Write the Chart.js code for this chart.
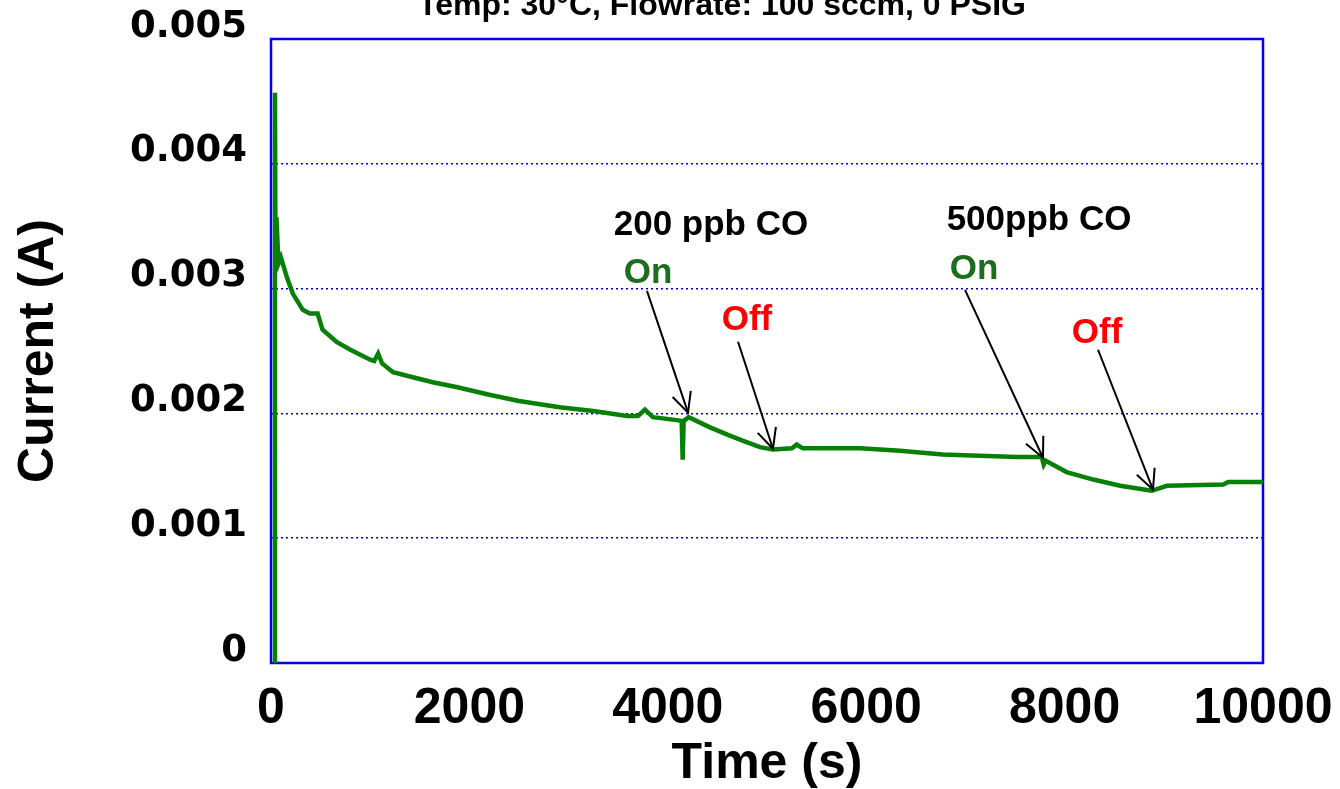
<!DOCTYPE html>
<html>
<head>
<meta charset="utf-8">
<script src="https://cdn.jsdelivr.net/npm/chart.js@4"></script>
<style>
  html, body { margin: 0; padding: 0; background: #fff; }
  canvas { display: block; }
</style>
</head>
<body>
<canvas id="myChart" width="1340" height="789"></canvas>
<script>
// time (s) and sensor current (A)
const timeS = [35, 40, 45, 55, 75, 100, 160, 220, 320, 390, 470, 520, 665, 800, 1000, 1040, 1080, 1120, 1230, 1430, 1630, 1880, 2200, 2500, 2910, 3250, 3590, 3700, 3770, 3850, 4050, 4140, 4150, 4160, 4210, 4420, 4600, 4760, 4930, 5060, 5250, 5300, 5360, 5940, 6340, 6770, 7520, 7770, 7790, 7810, 8020, 8290, 8560, 8880, 9030, 9600, 9650, 10000];
const currentA = [0, 0.00457, 0.0033, 0.00357, 0.0032, 0.00325, 0.00309, 0.00296, 0.00283, 0.0028, 0.0028, 0.00267, 0.00257, 0.00251, 0.00243, 0.00242, 0.00248, 0.0024, 0.00233, 0.00229, 0.00225, 0.00221, 0.00215, 0.0021, 0.00205, 0.00202, 0.00198, 0.00198, 0.00203, 0.00197, 0.00195, 0.00194, 0.00163, 0.00194, 0.00197, 0.00189, 0.00183, 0.00178, 0.00173, 0.00171, 0.00172, 0.00175, 0.00172, 0.00172, 0.0017, 0.00167, 0.00165, 0.00165, 0.00159, 0.00162, 0.00153, 0.00147, 0.00142, 0.00138, 0.00142, 0.00143, 0.00145, 0.00145];

const yTicks = [0, 0.001, 0.002, 0.003, 0.004, 0.005];
const xTicks = [0, 2000, 4000, 6000, 8000, 10000];

const chartTitle = 'Temp: 30\u00b0C, Flowrate: 100 sccm, 0 PSIG';

// annotation labels: text, time, current, colour
const labelText = ['200 ppb CO', 'On', 'Off', '500ppb CO', 'On', 'Off'];
const labelTime = [4435, 3800, 4798, 7742, 7087, 8327];
const labelCurrent = [0.003431, 0.003047, 0.00267, 0.003471, 0.003078, 0.002566];
const labelColor = ['#000000', '#1b6e1b', '#ff0000', '#000000', '#1b6e1b', '#ff0000'];

// arrows: start -> end (time, current)
const arrowFromTime = [3790, 4708, 6996, 8337];
const arrowFromCurrent = [0.002982, 0.002574, 0.00299, 0.00251];
const arrowToTime = [4204, 5060, 7782, 8891];
const arrowToCurrent = [0.002006, 0.001717, 0.001645, 0.001389];

let points = timeS.map((t, i) => ({ x: t, y: currentA[i] }));

const frame = {
    id: 'frame',
    beforeDatasetsDraw(chart) {
        const a = chart.chartArea;
        const ctx = chart.ctx;
        ctx.save();
        ctx.strokeStyle = '#0000ee';
        ctx.lineWidth = 2.5;
        ctx.strokeRect(a.left, a.top, a.right - a.left, a.bottom - a.top);
        ctx.restore();
    }
};

const notes = {
    id: 'notes',
    afterDatasetsDraw(chart) {
        const ctx = chart.ctx;
        const xs = chart.scales.x, ys = chart.scales.y;
        ctx.save();
        // title, partly cut off at the top like the original
        ctx.font = 'bold 32px "Liberation Sans", Arial, sans-serif';
        ctx.fillStyle = '#000';
        ctx.textAlign = 'center';
        ctx.textBaseline = 'alphabetic';
        ctx.fillText(chartTitle, 722, 15);

        ctx.font = 'bold 35px "Liberation Sans", Arial, sans-serif';
        for (let i = 0; i < labelText.length; i++) {
            ctx.fillStyle = labelColor[i];
            ctx.fillText(labelText[i], xs.getPixelForValue(labelTime[i]), ys.getPixelForValue(labelCurrent[i]));
        }

        ctx.strokeStyle = '#000';
        ctx.lineWidth = 2;
        for (let i = 0; i < arrowFromTime.length; i++) {
            let x1 = xs.getPixelForValue(arrowFromTime[i]);
            let y1 = ys.getPixelForValue(arrowFromCurrent[i]);
            let x2 = xs.getPixelForValue(arrowToTime[i]);
            let y2 = ys.getPixelForValue(arrowToCurrent[i]);
            ctx.beginPath();
            ctx.moveTo(x1, y1);
            ctx.lineTo(x2, y2);
            ctx.stroke();
            let ang = Math.atan2(y2 - y1, x2 - x1);
            let len = 22, spread = 0.45;
            ctx.beginPath();
            ctx.moveTo(x2 - len * Math.cos(ang - spread), y2 - len * Math.sin(ang - spread));
            ctx.lineTo(x2, y2);
            ctx.lineTo(x2 - len * Math.cos(ang + spread), y2 - len * Math.sin(ang + spread));
            ctx.stroke();
        }
        ctx.restore();
    }
};

var ctx = document.getElementById('myChart').getContext('2d');

var myChart = new Chart(ctx, {
    type: 'scatter',
    data: {
        datasets: [{
            label: 'Current',
            data: points,
            showLine: true,
            borderColor: '#078007',
            borderWidth: 4.5,
            pointRadius: 0,
            tension: 0
        }]
    },
    options: {
        responsive: false,
        animation: false,
        devicePixelRatio: 1,
        layout: { padding: { top: 39, right: 77, bottom: 0, left: 0 } },
        plugins: {
            legend: { display: false },
            tooltip: { enabled: false }
        },
        scales: {
            x: {
                type: 'linear',
                min: 0,
                max: 10000,
                afterBuildTicks: (s) => { s.ticks = xTicks.map(v => ({ value: v })); },
                afterFit: (s) => { s.height = 126; s.paddingLeft = 0; s.paddingRight = 0; },
                grid: { display: false, drawTicks: false },
                border: { display: false },
                ticks: {
                    padding: 16,
                    color: '#000',
                    maxRotation: 0,
                    font: { family: '"Liberation Sans", Arial, sans-serif', size: 50, weight: 'bold' },
                    callback: (v) => String(v)
                },
                title: {
                    display: true,
                    text: 'Time (s)',
                    color: '#000',
                    padding: { top: 0, bottom: 0 },
                    font: { family: '"Liberation Sans", Arial, sans-serif', size: 50, weight: 'bold', lineHeight: 1 }
                }
            },
            y: {
                min: 0,
                max: 0.005,
                afterBuildTicks: (s) => { s.ticks = yTicks.map(v => ({ value: v })); },
                afterFit: (s) => { s.width = 271; s.paddingTop = 0; s.paddingBottom = 0; },
                grid: {
                    drawTicks: false,
                    color: (c) => (c.tick && c.tick.value > 0 && c.tick.value < 0.005) ? '#0000cc' : 'rgba(0,0,0,0)',
                    lineWidth: 1.5
                },
                border: { display: false, dash: [2, 3] },
                ticks: {
                    padding: 24,
                    labelOffset: -12,
                    color: '#000',
                    font: { family: '"DejaVu Sans", sans-serif', size: 37, weight: 'bold' },
                    callback: (v) => v === 0 ? '0' : v.toFixed(3)
                },
                title: {
                    display: true,
                    text: 'Current (A)',
                    color: '#000',
                    padding: { top: 9, bottom: 0 },
                    font: { family: '"Liberation Sans", Arial, sans-serif', size: 50, weight: 'bold', lineHeight: 1.2 }
                }
            }
        }
    },
    plugins: [frame, notes]
});
</script>
</body>
</html>
